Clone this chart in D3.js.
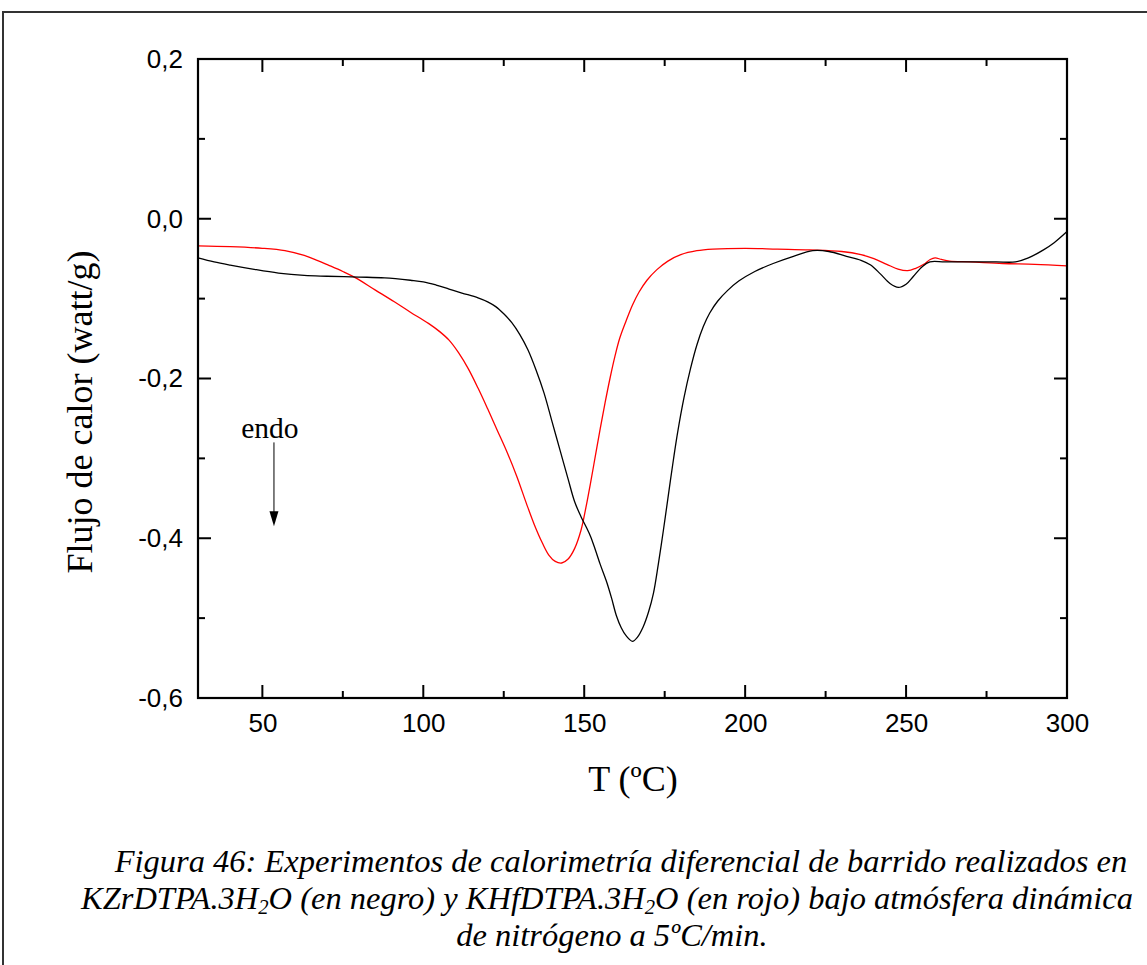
<!DOCTYPE html>
<html><head><meta charset="utf-8">
<script src="https://cdn.jsdelivr.net/npm/d3@7"></script>
<style>body{margin:0;background:#fff}</style>
</head><body>
<svg id="c" width="1147" height="965"></svg>
<script>
// KZrDTPA.3H2O (black)
const blackT = [30,35,40,47,55,63,70,80,88,96,100,104,108,112,117,120,122.5,125,127.5,130,132.5,135,137.5,140,142.5,145,147,149,150.5,152,153.5,155,157,158.5,160,161.5,163,165,166.5,168.3,170,171.5,173,174.6,176,177.7,179,181,183,185,187,189,191.5,194.5,198,203,208.7,215,221,226,231.5,236,239,242,245,247.6,250,252.3,255,257.4,262,270,278,284,288,292.7,296,300];
const blackY = [-0.049,-0.054,-0.058,-0.063,-0.068,-0.071,-0.072,-0.073,-0.074,-0.077,-0.079,-0.083,-0.088,-0.093,-0.099,-0.104,-0.110,-0.119,-0.130,-0.145,-0.164,-0.189,-0.218,-0.254,-0.290,-0.326,-0.354,-0.373,-0.385,-0.398,-0.415,-0.433,-0.455,-0.475,-0.497,-0.512,-0.522,-0.529,-0.524,-0.511,-0.492,-0.469,-0.433,-0.390,-0.350,-0.302,-0.268,-0.224,-0.188,-0.158,-0.135,-0.118,-0.103,-0.090,-0.078,-0.066,-0.056,-0.047,-0.040,-0.041,-0.047,-0.052,-0.058,-0.069,-0.081,-0.086,-0.082,-0.072,-0.060,-0.054,-0.054,-0.054,-0.054,-0.054,-0.049,-0.039,-0.030,-0.016];
// KHfDTPA.3H2O (red)
const redT = [30,40,50,57,63,67,70.5,75,79,85,91,96,101.6,105,108,111,114,117,120,123,126,129,132,134.5,137,139,141,143,145,147,149,150.5,152,153.5,155,156.5,158,159.5,161,163,165,167,169.5,172.5,176,180,185,190,200,210,220,230,236,240,244,247.5,250.5,253,255.5,257.5,259,261,263.5,270,280,290,300];
const redY = [-0.034,-0.035,-0.037,-0.040,-0.046,-0.052,-0.058,-0.066,-0.074,-0.089,-0.104,-0.117,-0.131,-0.141,-0.152,-0.168,-0.188,-0.212,-0.238,-0.265,-0.292,-0.322,-0.356,-0.383,-0.406,-0.421,-0.429,-0.431,-0.426,-0.413,-0.390,-0.362,-0.330,-0.296,-0.262,-0.230,-0.200,-0.173,-0.150,-0.128,-0.108,-0.092,-0.077,-0.064,-0.053,-0.045,-0.040,-0.038,-0.037,-0.038,-0.039,-0.041,-0.045,-0.050,-0.057,-0.063,-0.065,-0.062,-0.057,-0.051,-0.049,-0.051,-0.053,-0.054,-0.056,-0.057,-0.059];

const xTicks = [50,100,150,200,250,300];
const xMinor = [75,125,175,225,275];
const yTicks = [0.2,0.0,-0.2,-0.4,-0.6];
const yMinor = [0.1,-0.1,-0.3,-0.5];
const xDomain = [30,300];
const yDomain = [-0.6,0.2];
const arrowAt = {t:53.6, y0:-0.28, y1:-0.385};
const captionLines = [
  [{t:"Figura 46: Experimentos de calorimetría diferencial de barrido realizados en"}],
  [{t:"KZrDTPA.3H"},{t:"2",sub:true},{t:"O (en negro) y KHfDTPA.3H"},{t:"2",sub:true},{t:"O (en rojo) bajo atmósfera dinámica"}],
  [{t:"de nitrógeno a 5ºC/min."}]
];

const SERIF = "'Liberation Serif', 'Times New Roman', serif";
const SANS = "'Liberation Sans', Arial, sans-serif";
const svg = d3.select("#c");
svg.append("rect").attr("x",3).attr("y",12).attr("width",1160).attr("height",1000)
  .attr("fill","none").attr("stroke","#333").attr("stroke-width",2);

const L=198,R=1067,T=59,B=698;
const x = d3.scaleLinear().domain(xDomain).range([L,R]);
const y = d3.scaleLinear().domain(yDomain).range([B,T]);

const g = svg.append("g");
const tickStyle = s => s.attr("stroke","#000").attr("stroke-width",2);
function xt(vals,len){
  vals.forEach(v=>{
    tickStyle(g.append("line").attr("x1",x(v)).attr("x2",x(v)).attr("y1",B).attr("y2",B-len));
    tickStyle(g.append("line").attr("x1",x(v)).attr("x2",x(v)).attr("y1",T).attr("y2",T+len));
  });
}
function yt(vals,len){
  vals.forEach(v=>{
    tickStyle(g.append("line").attr("y1",y(v)).attr("y2",y(v)).attr("x1",L).attr("x2",L+len));
    tickStyle(g.append("line").attr("y1",y(v)).attr("y2",y(v)).attr("x1",R).attr("x2",R-len));
  });
}
xt(xTicks,13); xt(xMinor,7); yt(yTicks,13); yt(yMinor,7);

const fmt = d3.format(".1f");
const xa = d3.axisBottom(x).tickValues(xTicks).tickSize(0).tickPadding(16).tickFormat(d=>d);
const ya = d3.axisLeft(y).tickValues(yTicks).tickSize(0).tickPadding(15).tickFormat(d=>fmt(d).replace(".",",").replace("−","-"));
const gx = svg.append("g").attr("transform",`translate(0,${B})`).call(xa);
const gy = svg.append("g").attr("transform",`translate(${L},0)`).call(ya);
[gx,gy].forEach(a=>{a.select(".domain").remove();a.selectAll("text").attr("font-family",SANS).attr("font-size",26).attr("fill","#000");});

const line = d3.line().x(d=>x(d[0])).y(d=>y(d[1])).curve(d3.curveCatmullRom.alpha(0.5));
svg.append("path").datum(redT.map((t,i)=>[t,redY[i]])).attr("d",line).attr("fill","none").attr("stroke","#ff0000").attr("stroke-width",1.3);
svg.append("path").datum(blackT.map((t,i)=>[t,blackY[i]])).attr("d",line).attr("fill","none").attr("stroke","#000").attr("stroke-width",1.3);

svg.append("rect").attr("x",L).attr("y",T).attr("width",R-L).attr("height",B-T).attr("fill","none").attr("stroke","#000").attr("stroke-width",2.2);

svg.append("text").attr("x",633).attr("y",791).attr("text-anchor","middle")
  .attr("font-family",SERIF).attr("font-size",36).text("T (ºC)");
svg.append("text").attr("transform","translate(92,412) rotate(-90)").attr("text-anchor","middle")
  .attr("font-family",SERIF).attr("font-size",36).text("Flujo de calor (watt/g)");

const ax = x(arrowAt.t);
svg.append("text").attr("x",ax-4).attr("y",438).attr("text-anchor","middle")
  .attr("font-family",SERIF).attr("font-size",29.5).text("endo");
svg.append("line").attr("x1",ax).attr("x2",ax).attr("y1",y(arrowAt.y0)).attr("y2",y(arrowAt.y1)-12).attr("stroke","#000").attr("stroke-width",1);
svg.append("path").attr("d",`M${ax-4.5},${y(arrowAt.y1)-15}L${ax+4.5},${y(arrowAt.y1)-15}L${ax},${y(arrowAt.y1)}Z`).attr("fill","#000");

const capX=[621,607,612], capY=[872,909,946];
captionLines.forEach((parts,i)=>{
  const t = svg.append("text").attr("transform",`translate(${capX[i]},${capY[i]}) scale(1.035,1)`).attr("text-anchor","middle")
    .attr("font-family",SERIF).attr("font-style","italic").attr("font-size",31.4);
  parts.forEach((p,k)=>{
    if(p.sub){ t.append("tspan").attr("font-size",20).attr("dy",5).text(p.t); }
    else { const ts=t.append("tspan").text(p.t); if(k>0 && parts[k-1].sub) ts.attr("dy",-5); }
  });
});
</script>
</body></html>
